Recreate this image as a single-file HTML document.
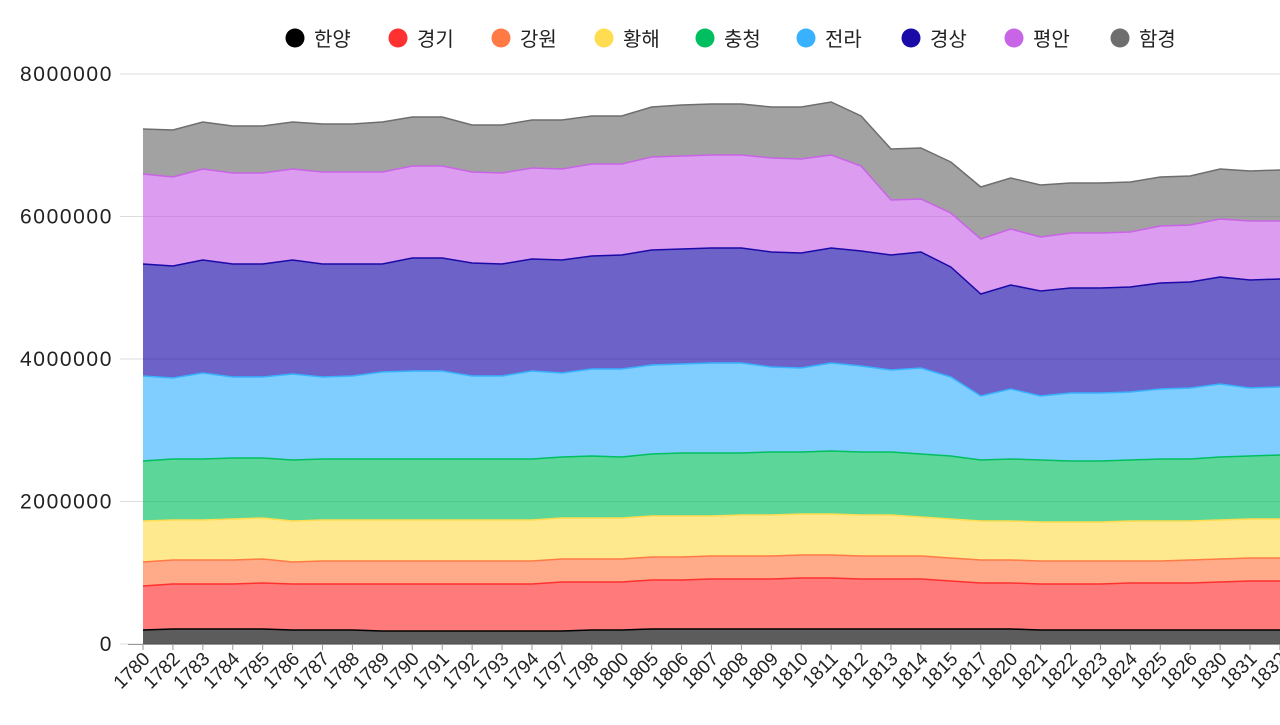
<!DOCTYPE html>
<html><head><meta charset="utf-8"><style>
body{margin:0;background:#fff;width:1280px;height:720px;overflow:hidden;font-family:"Liberation Sans","Noto Sans CJK KR",sans-serif}
</style></head><body>
<svg id="s" width="1280" height="720" xmlns="http://www.w3.org/2000/svg" font-family="Liberation Sans, Noto Sans CJK KR, sans-serif"></svg>
<script>
const years=[1780,1782,1783,1784,1785,1786,1787,1788,1789,1790,1791,1792,1793,1794,1797,1798,1800,1805,1806,1807,1808,1809,1810,1811,1812,1813,1814,1815,1817,1820,1821,1822,1823,1824,1825,1826,1830,1831,1832];
const tops=[
[630,629,629,629,629,630,630,630,631,631,631,631,631,631,631,630,630,629,629,629,629,629,629,629,629,629,629,629,629,629,630,630,630,630,630,630,630,630,630],
[586,584,584,584,583,584,584,584,584,584,584,584,584,584,582,582,582,580,580,579,579,579,578,578,579,579,579,581,583,583,584,584,584,583,583,583,582,581,581],
[562,560,560,560,559,562,561,561,561,561,561,561,561,561,559,559,559,557,557,556,556,556,555,555,556,556,556,558,560,560,561,561,561,561,561,560,559,558,558],
[521,520,520,519,518,521,520,520,520,520,520,520,520,520,518,518,518,516,516,516,515,515,514,514,515,515,517,519,521,521,522,522,522,521,521,521,520,519,519],
[461,459,459,458,458,460,459,459,459,459,459,459,459,459,457,456,457,454,453,453,453,452,452,451,452,452,454,456,460,459,460,461,461,460,459,459,457,456,455],
[376,378,373,377,377,374,377,376,372,371,371,376,376,371,373,369,369,365,364,363,363,367,368,363,366,370,368,377,396,389,396,393,393,392,389,388,384,388,387],
[264,266,260,264,264,260,264,264,264,258,258,263,264,259,260,256,255,250,249,248,248,252,253,248,251,255,252,267,294,285,291,288,288,287,283,282,277,280,279],
[174,177,169,173,173,169,172,172,172,166,166,172,173,168,169,164,164,157,156,155,155,158,159,155,166,200,199,213,239,229,237,233,233,232,226,225,219,221,221],
[129,130,122,126,126,122,124,124,122,117,117,125,125,120,120,116,116,107,105,104,104,107,107,102,116,149,148,162,187,178,185,183,183,182,177,176,169,171,170]];
const cols=["#000000","#ff3030","#ff7a45","#ffdc50","#00bf60","#38b2ff","#1a0aa8","#c864e6","#6e6e6e"];
const names=["한양","경기","강원","황해","충청","전라","경상","평안","함경"];
const X=i=>143+i*29.92;
let h='';
[0,2000000,4000000,6000000,8000000].forEach((v,k)=>{const y=644-k*142.5;
h+=`<line x1="120" x2="1280" y1="${y}" y2="${y}" stroke="#dcdcdc"/>`;
h+=`<text x="113" y="${y+7}" text-anchor="end" font-size="21" letter-spacing="1.6" fill="#222">${v}</text>`;});
for(let s=8;s>=0;s--){
 let up=tops[s].map((y,i)=>`${X(i).toFixed(1)},${y}`);
 let low=s==0?[`${X(38).toFixed(1)},644`,`${X(0)},644`]:tops[s-1].map((y,i)=>`${X(i).toFixed(1)},${y}`).reverse();
 h+=`<polygon points="${up.concat(low).join(' ')}" fill="${cols[s]}" fill-opacity="0.64"/>`;
 h+=`<polyline points="${up.join(' ')}" fill="none" stroke="${cols[s]}" stroke-width="1.5"/>`;
}
h+=`<line x1="128" x2="1280" y1="644.5" y2="644.5" stroke="#999"/>`;
years.forEach((y,i)=>{const x=X(i);
h+=`<line x1="${x}" x2="${x}" y1="644" y2="650" stroke="#999"/>`;
h+=`<text transform="translate(${x+8},${660}) rotate(-45)" text-anchor="end" font-size="19" fill="#222">${y}</text>`;});
const lx=[295,398,501,604,705,806,911,1014,1120];
names.forEach((n,i)=>{h+=`<circle cx="${lx[i]}" cy="38" r="9.5" fill="${cols[i]}"/><text x="${lx[i]+19}" y="46" font-size="20" fill="#222">${n}</text>`;});
document.getElementById('s').innerHTML=h;
</script>
</body></html>
